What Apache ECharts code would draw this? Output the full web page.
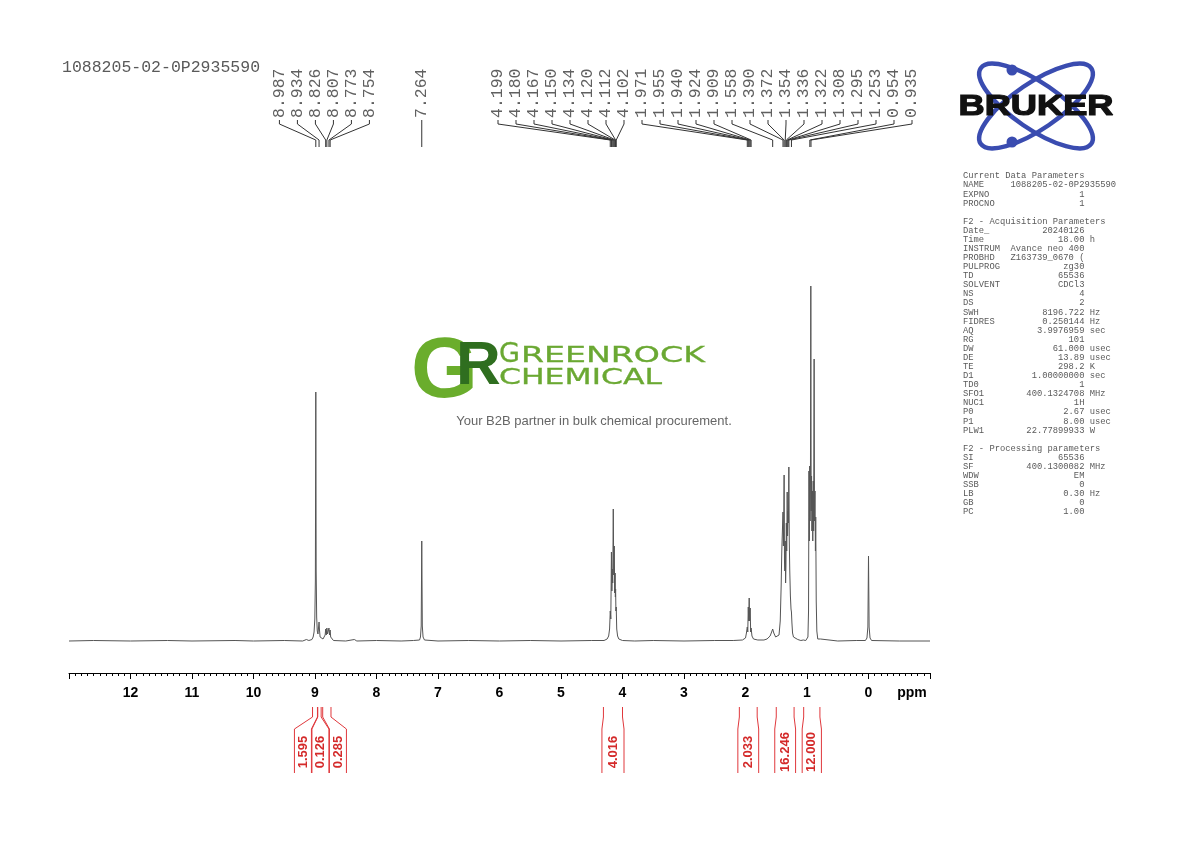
<!DOCTYPE html>
<html><head><meta charset="utf-8">
<script src="https://cdn.jsdelivr.net/npm/echarts@6/dist/echarts.min.js"></script>
<style>html,body{margin:0;padding:0;background:#fff}#c{width:1190px;height:842px}</style>
</head><body><div id="c"></div>
<script>
// ---------- data ----------
const sampleName = '1088205-02-0P2935590';

// spectrum trace: [ppm, intensity (a.u.)]
const spectrum = [
 [13.0,0],[12.6,0.5],[12.0,0],[11.4,0.5],[11.0,0],[10.3,0.5],[10.0,0],[9.5,0.5],[9.2,0],[9.14,1.5],[9.10,0.5],
 [9.05,1.5],[9.03,4],[9.015,9],[9.003,22],[8.994,60],[8.987,249],[8.981,70],[8.973,24],[8.963,10],[8.952,7],
 [8.943,13],[8.934,19],[8.927,11],[8.917,4],[8.90,2],[8.87,2],[8.845,3],[8.835,6],[8.826,12],[8.817,6],[8.807,13],
 [8.797,7],[8.790,5],[8.782,7],[8.773,13],[8.764,6],[8.754,11],[8.745,4],[8.73,2],[8.70,0.5],
 [8.5,0],[8.36,1.5],[8.32,0],[8.0,0.5],[7.6,0],[7.40,0.5],[7.30,1],[7.285,4],[7.273,15],[7.264,100],[7.255,15],
 [7.243,4],[7.22,1],[7.0,0],[6.5,0.5],[6.0,0],[5.5,0.5],[5.0,0],[4.5,0.5],
 [4.30,0.5],[4.25,2],[4.225,5],[4.21,12],[4.199,30],[4.190,22],[4.180,89],[4.173,50],[4.167,72],[4.159,58],
 [4.150,132],[4.142,66],[4.134,95],[4.127,48],[4.120,68],[4.116,44],[4.112,52],[4.107,30],[4.102,34],[4.094,12],
 [4.08,5],[4.06,2],[4.0,0.5],
 [3.8,0],[3.5,0.5],[3.0,0],[2.5,0.5],[2.2,0.5],
 [2.05,1],[2.0,3],[1.985,8],[1.971,14],[1.963,9],[1.955,34],[1.948,20],[1.940,43],[1.932,20],[1.924,33],
 [1.916,9],[1.909,13],[1.895,5],[1.87,2],[1.80,1],[1.70,1],
 [1.65,2],[1.60,5],[1.575,9],[1.558,12],[1.54,8],[1.51,4],[1.48,4],
 [1.455,6],[1.435,20],[1.42,55],[1.41,90],[1.400,110],[1.390,129],[1.384,95],[1.378,120],[1.372,166],[1.366,80],
 [1.360,70],[1.354,100],[1.348,58],[1.342,75],[1.336,118],[1.330,90],[1.326,110],[1.322,149],[1.316,105],
 [1.312,115],[1.308,130],[1.302,118],[1.295,174],[1.288,100],[1.280,70],[1.270,45],[1.260,32],[1.253,29],
 [1.245,18],[1.235,8],[1.22,4],[1.19,2],[1.15,1.5],[1.10,0.5],[1.06,1],[1.02,0.5],
 [1.00,0.5],[0.985,4],[0.975,30],[0.968,170],[0.962,100],[0.956,175],[0.950,120],[0.944,160],[0.938,355],
 [0.932,130],[0.926,165],[0.920,110],[0.913,150],[0.906,100],[0.899,160],[0.892,110],[0.884,282],[0.878,120],
 [0.870,150],[0.863,90],[0.858,124],[0.850,40],[0.84,10],[0.825,2],
 [0.80,1.5],[0.78,2],[0.75,0.5],[0.5,0],[0.2,0.5],[0.05,0.5],[0.025,3],[0.010,14],[0.0,85],[-0.010,14],
 [-0.025,3],[-0.05,0.5],[-0.5,0],[-1.0,0]
];

// picked peak labels (ppm)
const peakPpm = [8.987,8.934,8.826,8.807,8.773,8.754,7.264,
 4.199,4.180,4.167,4.150,4.134,4.120,4.112,4.102,
 1.971,1.955,1.940,1.924,1.909,1.558,1.390,1.372,1.354,1.336,1.322,1.308,1.295,1.253,0.954,0.935];

// integral regions (ppm) and values
const integralRanges = [[9.04,8.96],[8.955,8.90],[8.875,8.74],[4.31,4.00],[2.10,1.81],[1.50,1.21],[1.054,0.79]];
const integralValues = [1.595,0.126,0.285,4.016,2.033,16.246,12.000];

// axis
const axisMin = -1, axisMax = 13, axisStep = 1;
const axisUnit = 'ppm';

// acquisition parameter block
const paramRows = [
 ['Current Data Parameters'],
 ['NAME', sampleName, '', true],
 ['EXPNO','1'],['PROCNO','1'],[''],
 ['F2 - Acquisition Parameters'],
 ['Date_','20240126'],['Time','18.00','h'],['INSTRUM','Avance neo 400'],['PROBHD','Z163739_0670 ('],
 ['PULPROG','zg30'],['TD','65536'],['SOLVENT','CDCl3'],['NS','4'],['DS','2'],
 ['SWH','8196.722','Hz'],['FIDRES','0.250144','Hz'],['AQ','3.9976959','sec'],['RG','101'],
 ['DW','61.000','usec'],['DE','13.89','usec'],['TE','298.2','K'],['D1','1.00000000','sec'],['TD0','1'],
 ['SFO1','400.1324708','MHz'],['NUC1','1H'],['P0','2.67','usec'],['P1','8.00','usec'],['PLW1','22.77899933','W'],
 [''],
 ['F2 - Processing parameters'],
 ['SI','65536'],['SF','400.1300082','MHz'],['WDW','EM'],['SSB','0'],['LB','0.30','Hz'],['GB','0'],['PC','1.00']
];

const brandTitle = ['G','REENROCK','CHEMICAL'];
const tagline = 'Your B2B partner in bulk chemical procurement.';
const brukerName = 'BRUKER';

// ---------- helpers ----------
function paramLine(r){
  if (r.length === 1) return r[0];
  if (r[3]) return r[0].padEnd(9) + r[1];
  return r[0].padEnd(8) + r[1].padStart(15) + (r[2] ? ' ' + r[2] : '');
}
// 1-D label layout (pool adjacent violators) with an optional right limit
function spread(ideal, offsets, maxX){
  const blocks = [];
  for (let i = 0; i < ideal.length; i++){
    let b = {sum: ideal[i] - offsets[i], n: 1, start: i};
    while (blocks.length && blocks[blocks.length-1].sum / blocks[blocks.length-1].n > b.sum / b.n){
      const p = blocks.pop(); b = {sum: p.sum + b.sum, n: p.n + b.n, start: p.start};
    }
    blocks.push(b);
  }
  const pos = [];
  blocks.forEach(b => { const m = b.sum / b.n; for (let k = 0; k < b.n; k++) pos[b.start+k] = m + offsets[b.start+k]; });
  if (maxX != null){
    for (let i = pos.length - 1; i >= 0; i--){
      const lim = i === pos.length - 1 ? maxX : pos[i+1] - (offsets[i+1] - offsets[i]);
      if (pos[i] > lim) pos[i] = lim;
    }
  }
  return pos;
}

const chart = echarts.init(document.getElementById('c'), null, {renderer: 'canvas'});

const graphics = [
  {type:'text', x:62, y:68, style:{text: sampleName, fill:'#5a5a5a', font:'16.5px "Liberation Mono"', align:'left', verticalAlign:'middle'}},
  {type:'text', x:963, y:171.5, style:{text: paramRows.map(paramLine).join('\n'), fill:'#5a5a5a', font:'8.8px "Liberation Mono"', lineHeight:9.08, align:'left', verticalAlign:'top'}},
  // Bruker logo
  {type:'ellipse', x:1036, y:106, rotation:-0.60, shape:{cx:0, cy:0, rx:67, ry:23}, style:{fill:null, stroke:'#3a4cb0', lineWidth:4.5}},
  {type:'ellipse', x:1036, y:106, rotation:0.60, shape:{cx:0, cy:0, rx:67, ry:23}, style:{fill:null, stroke:'#3a4cb0', lineWidth:4.5}},
  {type:'circle', shape:{cx:1012, cy:70, r:5.5}, style:{fill:'#3a4cb0'}},
  {type:'circle', shape:{cx:1012, cy:142, r:5.5}, style:{fill:'#3a4cb0'}},
  {type:'text', x:1036, y:107, scaleX:1.25, style:{text: brukerName, fill:'#111', stroke:'#111', lineWidth:1.2, font:'bold 29px "Liberation Sans"', align:'center', verticalAlign:'middle'}},
  // watermark
  {type:'text', x:411, y:373, z:20, style:{text:'G', fill:'#6aad2c', font:'bold 86px "Liberation Sans"', align:'left', verticalAlign:'middle'}},
  {type:'text', x:456, y:367, z:21, style:{text:'R', fill:'#2f6e1f', font:'bold 62px "Liberation Sans"', align:'left', verticalAlign:'middle'}},
  {type:'text', x:499, y:355, z:20, style:{text: brandTitle[0], fill:'#6aa832', stroke:'#6aa832', lineWidth:0.3, font:'27px "DejaVu Sans"', align:'left', verticalAlign:'middle'}},
  {type:'text', x:521, y:356.5, z:20, scaleX:1.58, style:{text: brandTitle[1], fill:'#6aa832', stroke:'#6aa832', lineWidth:0.3, font:'21px "DejaVu Sans"', align:'left', verticalAlign:'middle'}},
  {type:'text', x:499, y:378, z:20, scaleX:1.43, style:{text: brandTitle[2], fill:'#6aa832', stroke:'#6aa832', lineWidth:0.3, font:'22px "DejaVu Sans"', align:'left', verticalAlign:'middle'}},
  {type:'text', x:594, y:421, z:20, style:{text: tagline, fill:'#666', font:'13px "Liberation Sans"', align:'center', verticalAlign:'middle'}}
];

const option = {
  animation: false,
  backgroundColor: '#fff',
  grid: {left: 69, right: 260, top: 281, bottom: 201},
  xAxis: {
    type: 'value', min: axisMin, max: axisMax, interval: axisStep, inverse: true, offset: 32,
    axisLine: {show: true, onZero: false, lineStyle: {color: '#000', width: 1}},
    axisTick: {show: true, length: 6, lineStyle: {color: '#000'}},
    minorTick: {show: true, splitNumber: 10, length: 3, lineStyle: {color: '#000'}},
    splitLine: {show: false}, minorSplitLine: {show: false},
    axisLabel: {
      margin: 13, color: '#000', fontSize: 14, fontWeight: 'bold', fontFamily: 'Liberation Sans',
      showMinLabel: true, showMaxLabel: true,
      formatter: v => v === axisMax ? '' : (v === axisMin ? '{p|' + axisUnit + '}' : String(v)),
      rich: {p: {fontSize: 14, fontWeight: 'bold', fontFamily: 'Liberation Sans', color: '#000', padding: [0, 36, 0, 0]}}
    }
  },
  yAxis: {type: 'value', min: 0, max: 360, show: false},
  series: [
    {
      type: 'line', data: spectrum, showSymbol: false, symbol: 'none', clip: false, silent: true,
      lineStyle: {color: '#555', width: 1}
    },
    {
      type: 'custom', coordinateSystem: 'cartesian2d', silent: true, clip: false,
      data: peakPpm.map(p => [p, 0]), encode: {x: 0, y: 1},
      renderItem: function (params, api) {
        const xs = peakPpm.map(p => api.coord([p, 0])[0]);
        const pos = spread(xs, xs.map((_, i) => i * 18), 912);
        const i = params.dataIndex, px = xs[i], lx = pos[i];
        return {type: 'group', children: [
          {type: 'text', x: lx, y: 118, rotation: Math.PI / 2,
           style: {text: peakPpm[i].toFixed(3), fill: '#606060', font: '16.5px "Liberation Mono"', align: 'left', verticalAlign: 'middle'}},
          {type: 'polyline', shape: {points: [[lx, 120], [lx, 124], [px, 140], [px, 147]]},
           style: {stroke: '#333', lineWidth: 1, fill: null}}
        ]};
      }
    },
    {
      type: 'custom', coordinateSystem: 'cartesian2d', silent: true, clip: false,
      data: integralRanges.map(r => [r[0], r[1], 0]), encode: {x: [0, 1], y: 2},
      renderItem: function (params, api) {
        const xa = integralRanges.map(r => api.coord([r[0], 0])[0]);
        const xb = integralRanges.map(r => api.coord([r[1], 0])[0]);
        const hw = xa.map((a, k) => Math.max(8.5, (xb[k] - a) / 2 + 1.5));
        const centers = xa.map((a, k) => (a + xb[k]) / 2);
        const offs = [0];
        for (let k = 1; k < hw.length; k++) offs[k] = offs[k-1] + hw[k-1] + hw[k] + 0.5;
        const pos = spread(centers, offs, null);
        const i = params.dataIndex, cx = pos[i], h = hw[i];
        const red = '#e0383c';
        return {type: 'group', children: [
          {type: 'polyline', shape: {points: [[xa[i], 707], [xa[i], 717], [cx - h, 729], [cx - h, 773]]}, style: {stroke: red, lineWidth: 1, fill: null}},
          {type: 'polyline', shape: {points: [[xb[i], 707], [xb[i], 717], [cx + h, 729], [cx + h, 773]]}, style: {stroke: red, lineWidth: 1, fill: null}},
          {type: 'text', x: cx, y: 752, rotation: Math.PI / 2,
           style: {text: integralValues[i].toFixed(3), fill: '#d42a2a', font: 'bold 13px "Liberation Sans"', align: 'center', verticalAlign: 'middle'}}
        ]};
      }
    }
  ],
  graphic: graphics
};
chart.setOption(option);
</script>
</body></html>
